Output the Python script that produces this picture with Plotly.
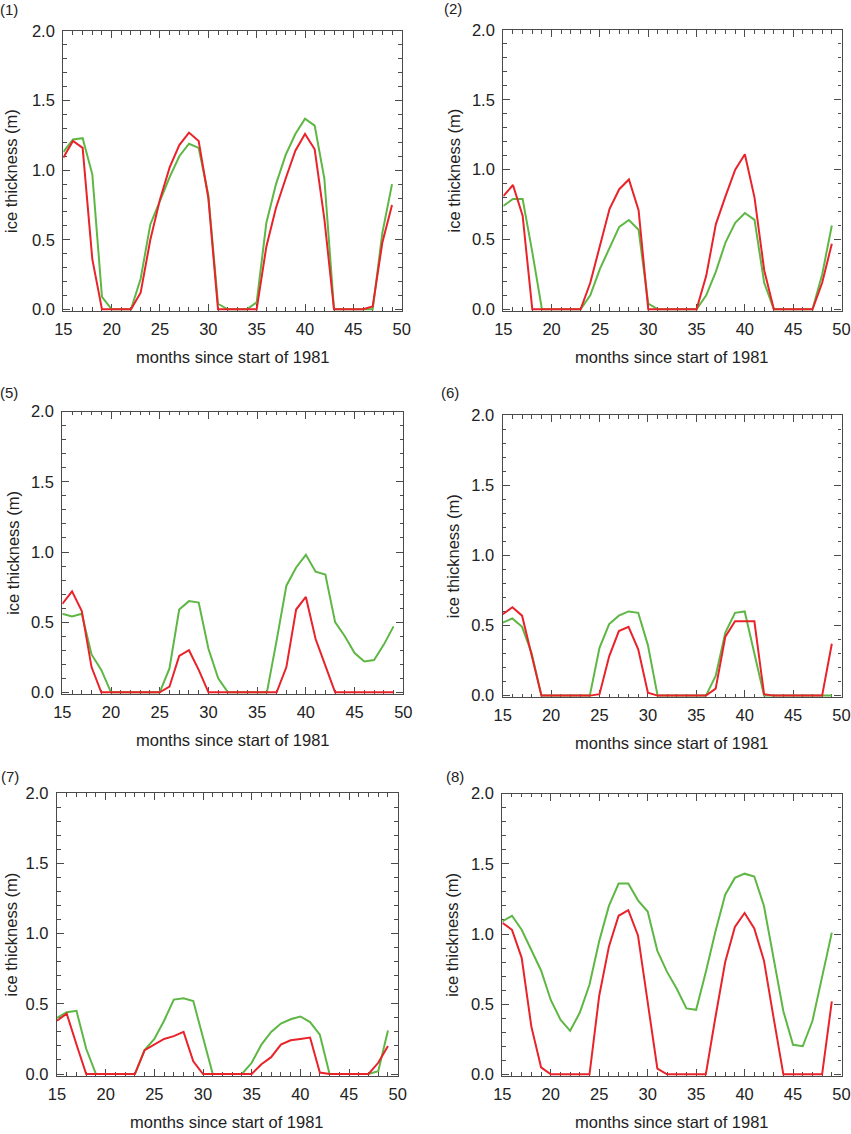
import plotly.graph_objects as go

W, H = 851, 1134

months = list(range(15, 50))

p1_green = [1.13, 1.22, 1.23, 0.97, 0.09, 0.0, 0.0, 0.0, 0.22, 0.61, 0.78, 0.95, 1.10, 1.19, 1.16, 0.82, 0.04, 0.0, 0.0, 0.0, 0.05, 0.62, 0.90, 1.11, 1.26, 1.37, 1.32, 0.94, 0.0, 0.0, 0.0, 0.0, 0.0, 0.55, 0.90]
p1_red = [1.09, 1.21, 1.16, 0.36, 0.0, 0.0, 0.0, 0.0, 0.12, 0.50, 0.79, 1.02, 1.18, 1.27, 1.21, 0.80, 0.0, 0.0, 0.0, 0.0, 0.0, 0.45, 0.73, 0.94, 1.14, 1.26, 1.15, 0.65, 0.0, 0.0, 0.0, 0.0, 0.02, 0.48, 0.75]

p2_green = [0.74, 0.79, 0.79, 0.41, 0.0, 0.0, 0.0, 0.0, 0.0, 0.10, 0.29, 0.44, 0.59, 0.64, 0.57, 0.04, 0.0, 0.0, 0.0, 0.0, 0.0, 0.10, 0.27, 0.48, 0.62, 0.69, 0.64, 0.19, 0.0, 0.0, 0.0, 0.0, 0.0, 0.25, 0.60]
p2_red = [0.81, 0.89, 0.67, 0.0, 0.0, 0.0, 0.0, 0.0, 0.0, 0.19, 0.45, 0.72, 0.86, 0.93, 0.71, 0.0, 0.0, 0.0, 0.0, 0.0, 0.0, 0.24, 0.61, 0.81, 1.00, 1.11, 0.80, 0.28, 0.0, 0.0, 0.0, 0.0, 0.0, 0.19, 0.47]

p5_green = [0.56, 0.54, 0.56, 0.27, 0.16, 0.0, 0.0, 0.0, 0.0, 0.0, 0.0, 0.17, 0.59, 0.65, 0.64, 0.31, 0.10, 0.0, 0.0, 0.0, 0.0, 0.0, 0.37, 0.76, 0.89, 0.98, 0.86, 0.84, 0.50, 0.40, 0.28, 0.22, 0.23, 0.34, 0.47]
p5_red = [0.63, 0.72, 0.58, 0.18, 0.0, 0.0, 0.0, 0.0, 0.0, 0.0, 0.0, 0.04, 0.26, 0.30, 0.16, 0.0, 0.0, 0.0, 0.0, 0.0, 0.0, 0.0, 0.0, 0.18, 0.59, 0.68, 0.38, 0.19, 0.0, 0.0, 0.0, 0.0, 0.0, 0.0, 0.0]

p6_green = [0.52, 0.55, 0.49, 0.30, 0.0, 0.0, 0.0, 0.0, 0.0, 0.0, 0.34, 0.51, 0.57, 0.60, 0.59, 0.36, 0.0, 0.0, 0.0, 0.0, 0.0, 0.0, 0.14, 0.45, 0.59, 0.60, 0.30, 0.0, 0.0, 0.0, 0.0, 0.0, 0.0, 0.0, 0.0]
p6_red = [0.58, 0.63, 0.57, 0.29, 0.0, 0.0, 0.0, 0.0, 0.0, 0.0, 0.01, 0.28, 0.46, 0.49, 0.33, 0.02, 0.0, 0.0, 0.0, 0.0, 0.0, 0.0, 0.05, 0.42, 0.53, 0.53, 0.53, 0.01, 0.0, 0.0, 0.0, 0.0, 0.0, 0.0, 0.37]

p7_green = [0.40, 0.44, 0.45, 0.18, 0.0, 0.0, 0.0, 0.0, 0.0, 0.17, 0.25, 0.38, 0.53, 0.54, 0.52, 0.26, 0.0, 0.0, 0.0, 0.0, 0.08, 0.21, 0.30, 0.36, 0.39, 0.41, 0.37, 0.28, 0.0, 0.0, 0.0, 0.0, 0.0, 0.02, 0.31]
p7_red = [0.38, 0.43, 0.21, 0.0, 0.0, 0.0, 0.0, 0.0, 0.0, 0.17, 0.21, 0.25, 0.27, 0.30, 0.09, 0.0, 0.0, 0.0, 0.0, 0.0, 0.0, 0.07, 0.12, 0.21, 0.24, 0.25, 0.26, 0.01, 0.0, 0.0, 0.0, 0.0, 0.0, 0.08, 0.20]

p8_green = [1.09, 1.13, 1.03, 0.89, 0.74, 0.53, 0.39, 0.31, 0.44, 0.64, 0.95, 1.20, 1.36, 1.36, 1.24, 1.16, 0.88, 0.73, 0.61, 0.47, 0.46, 0.73, 1.02, 1.28, 1.40, 1.43, 1.41, 1.20, 0.81, 0.45, 0.21, 0.20, 0.38, 0.70, 1.01]
p8_red = [1.08, 1.03, 0.83, 0.34, 0.05, 0.0, 0.0, 0.0, 0.0, 0.0, 0.56, 0.91, 1.13, 1.17, 0.99, 0.51, 0.04, 0.0, 0.0, 0.0, 0.0, 0.0, 0.41, 0.80, 1.05, 1.15, 1.04, 0.81, 0.40, 0.0, 0.0, 0.0, 0.0, 0.0, 0.52]

panel_labels = ["(1)", "(2)", "(5)", "(6)", "(7)", "(8)"]
green_series = [p1_green, p2_green, p5_green, p6_green, p7_green, p8_green]
red_series = [p1_red, p2_red, p5_red, p6_red, p7_red, p8_red]

x_ticks = [15, 20, 25, 30, 35, 40, 45, 50]
y_ticks = [0.0, 0.5, 1.0, 1.5, 2.0]
y_ticklabels = ["0.0", "0.5", "1.0", "1.5", "2.0"]
x_title = "months since start of 1981"
y_title = "ice thickness (m)"

GREEN = "#5EB744"
RED = "#E8232A"
AX = "#4a4a4a"
TXT = "#222222"
FONT = "Liberation Sans, Arial, Helvetica, sans-serif"

# panel boxes in window pixels: left, right, top, bottom
boxes = [
    (63.3, 401.7, 31.0, 311.0),
    (503.3, 841.5, 30.0, 311.0),
    (62.3, 403.3, 411.7, 694.0),
    (502.7, 841.5, 415.0, 697.3),
    (57.0, 397.7, 793.3, 1075.7),
    (502.3, 841.5, 793.7, 1076.0),
]
label_pos = [(9, 10), (453, 8), (9, 392), (450, 392), (10, 776), (455, 776)]
ytitle_x = [11, 453, 13, 453, 10, 452]


def px(v):
    return v / W


def py(v):
    return 1 - v / H


fig = go.Figure()
annotations = []
for i in range(6):
    l, r, t, b = boxes[i]
    n = "" if i == 0 else str(i + 1)
    xa = "x" + n
    ya = "y" + n
    fig.add_trace(go.Scatter(x=months, y=green_series[i], mode="lines",
                             line=dict(color=GREEN, width=2), xaxis=xa, yaxis=ya,
                             showlegend=False))
    fig.add_trace(go.Scatter(x=months, y=red_series[i], mode="lines",
                             line=dict(color=RED, width=2), xaxis=xa, yaxis=ya,
                             showlegend=False))
    common = dict(showline=True, linecolor=AX, linewidth=1.3, mirror="allticks",
                  ticks="inside", tickcolor=AX, tickwidth=1.2, ticklen=7,
                  showgrid=False, zeroline=False, automargin=False,
                  ticklabeloverflow="allow",
                  tickfont=dict(family=FONT, size=16.5, color=TXT),
                  layer="below traces")
    fig.layout["xaxis" + n] = dict(
        domain=[px(l), px(r)], anchor=ya, range=[15, 50],
        tickvals=x_ticks, ticktext=[str(v) for v in x_ticks],
        ticklabelstandoff=3,
        minor=dict(dtick=1, ticks="inside", ticklen=3.5, tickcolor=AX, tickwidth=1.2),
        **common)
    fig.layout["yaxis" + n] = dict(
        domain=[py(b), py(t)], anchor=xa, range=[-0.012, 2.0],
        tickvals=y_ticks, ticktext=y_ticklabels,
        ticklabelstandoff=4,
        minor=dict(dtick=0.1, tick0=0, ticks="inside", ticklen=3.5, tickcolor=AX, tickwidth=1.2),
        **common)
    cx = (l + r) / 2
    annotations.append(dict(text=x_title, x=px(cx), y=py(b + 46),
                            xref="paper", yref="paper", showarrow=False,
                            xanchor="center", yanchor="middle",
                            font=dict(family=FONT, size=16.5, color=TXT)))
    annotations.append(dict(text=y_title, x=px(ytitle_x[i]), y=py((t + b) / 2),
                            xref="paper", yref="paper", showarrow=False, textangle=-90,
                            xanchor="center", yanchor="middle",
                            font=dict(family=FONT, size=16.5, color=TXT)))
    lx, ly = label_pos[i]
    annotations.append(dict(text=panel_labels[i], x=px(lx), y=py(ly),
                            xref="paper", yref="paper", showarrow=False,
                            xanchor="center", yanchor="middle",
                            font=dict(family=FONT, size=15, color=TXT)))

fig.update_layout(width=W, height=H, margin=dict(l=0, r=0, t=0, b=0, autoexpand=False),
                  paper_bgcolor="white", plot_bgcolor="white",
                  annotations=annotations, showlegend=False)

# remove the browser's default 8px page margin so the figure fills the window
fig.write_html("out.html", config={"displayModeBar": False},
               post_script="document.body.style.margin='0';")
